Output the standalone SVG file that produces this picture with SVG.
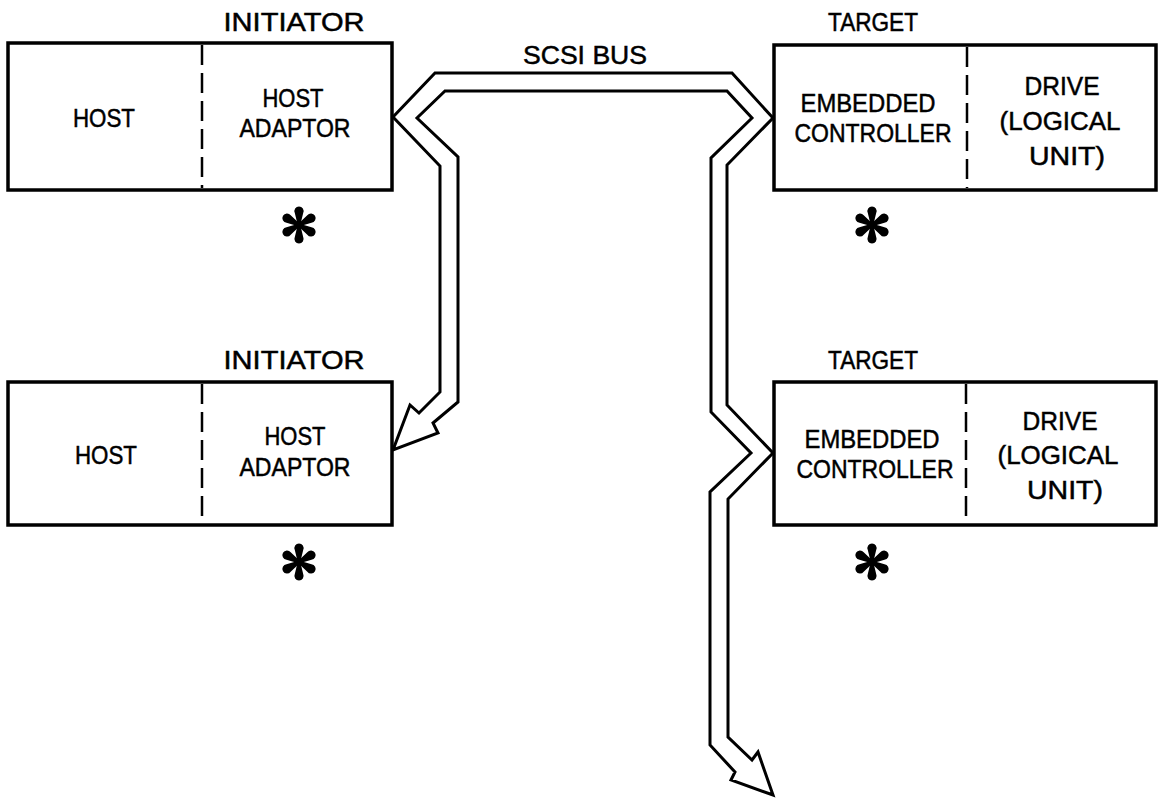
<svg xmlns="http://www.w3.org/2000/svg" xmlns:xlink="http://www.w3.org/1999/xlink" width="1159" height="799" viewBox="0 0 1159 799">
<style>
  .box { fill: #fff; stroke: #000; stroke-width: 3.5; }
  .div { stroke: #000; stroke-width: 2.5; stroke-dasharray: 20 8; fill: none; }
  .t { font-family: "Liberation Sans", Arial, sans-serif; font-size: 26px; fill: #000; stroke: #000; stroke-width: 0.5; text-anchor: middle; }
  .bus { fill: #fff; stroke: #000; stroke-width: 3; stroke-linejoin: miter; }
  .ast { fill: #000; }
</style>
<defs>
  <path id="arm" d="M -1.3 0 L -4.2 -12 A 4.6 4.6 0 1 1 4.2 -12 L 1.3 0 Z"/>
  <g id="star" class="ast">
    <use xlink:href="#arm"/>
    <use xlink:href="#arm" transform="rotate(60)"/>
    <use xlink:href="#arm" transform="rotate(120)"/>
    <use xlink:href="#arm" transform="rotate(180)"/>
    <use xlink:href="#arm" transform="rotate(240)"/>
    <use xlink:href="#arm" transform="rotate(300)"/>
    <circle r="3.5"/>
  </g>
</defs>
<rect width="1159" height="799" fill="#fff"/>

<g id="connectors">
  <path class="bus" d="M 440 392 L 440 166 L 393 117 L 435 73 L 732 73 L 773 118 L 727 165 L 727 405 L 773 453 L 728 499 L 728 737 L 752 760 L 758 752 L 773 795 L 731 780 L 735 772 L 710 745 L 710 492 L 751 453 L 711 412 L 711 158 L 752 118 L 727 91 L 445 91 L 417 118 L 458 157 L 458 402 L 433 423 L 438 433 L 393 450 L 410 405 L 419 413 Z"/>
  <text class="t" x="585" y="64" textLength="124" lengthAdjust="spacingAndGlyphs">SCSI BUS</text>
</g>

<g id="initiator1">
  <text class="t" x="294" y="31" textLength="141" lengthAdjust="spacingAndGlyphs">INITIATOR</text>
  <rect class="box" x="8" y="43" width="384" height="147"/>
  <line class="div" x1="202" y1="45" x2="202" y2="188"/>
  <text class="t" x="104" y="127" textLength="62" lengthAdjust="spacingAndGlyphs">HOST</text>
  <text class="t" x="293" y="107" textLength="61" lengthAdjust="spacingAndGlyphs">HOST</text>
  <text class="t" x="295" y="137" textLength="111" lengthAdjust="spacingAndGlyphs">ADAPTOR</text>
  <use xlink:href="#star" x="299" y="225"/>
</g>

<g id="initiator2">
  <text class="t" x="294" y="369" textLength="141" lengthAdjust="spacingAndGlyphs">INITIATOR</text>
  <rect class="box" x="8" y="382" width="384" height="143"/>
  <line class="div" x1="202" y1="384" x2="202" y2="523"/>
  <text class="t" x="106" y="464" textLength="62" lengthAdjust="spacingAndGlyphs">HOST</text>
  <text class="t" x="295" y="445" textLength="61" lengthAdjust="spacingAndGlyphs">HOST</text>
  <text class="t" x="295" y="476" textLength="111" lengthAdjust="spacingAndGlyphs">ADAPTOR</text>
  <use xlink:href="#star" x="299" y="562"/>
</g>

<g id="target1">
  <text class="t" x="873" y="31" textLength="90" lengthAdjust="spacingAndGlyphs">TARGET</text>
  <rect class="box" x="774" y="45" width="382" height="145"/>
  <line class="div" x1="967" y1="47" x2="967" y2="188"/>
  <text class="t" x="868" y="112" textLength="135" lengthAdjust="spacingAndGlyphs">EMBEDDED</text>
  <text class="t" x="873" y="142" textLength="157" lengthAdjust="spacingAndGlyphs">CONTROLLER</text>
  <text class="t" x="1062" y="95" textLength="75" lengthAdjust="spacingAndGlyphs">DRIVE</text>
  <text class="t" x="1060" y="130" textLength="121" lengthAdjust="spacingAndGlyphs">(LOGICAL</text>
  <text class="t" x="1067" y="165" textLength="76" lengthAdjust="spacingAndGlyphs">UNIT)</text>
  <use xlink:href="#star" x="872" y="225"/>
</g>

<g id="target2">
  <text class="t" x="873" y="369" textLength="90" lengthAdjust="spacingAndGlyphs">TARGET</text>
  <rect class="box" x="774" y="382" width="382" height="143"/>
  <line class="div" x1="966" y1="384" x2="966" y2="523"/>
  <text class="t" x="872" y="448" textLength="135" lengthAdjust="spacingAndGlyphs">EMBEDDED</text>
  <text class="t" x="875" y="478" textLength="157" lengthAdjust="spacingAndGlyphs">CONTROLLER</text>
  <text class="t" x="1060" y="430" textLength="75" lengthAdjust="spacingAndGlyphs">DRIVE</text>
  <text class="t" x="1058" y="464" textLength="121" lengthAdjust="spacingAndGlyphs">(LOGICAL</text>
  <text class="t" x="1065" y="499" textLength="76" lengthAdjust="spacingAndGlyphs">UNIT)</text>
  <use xlink:href="#star" x="872" y="562"/>
</g>
</svg>
